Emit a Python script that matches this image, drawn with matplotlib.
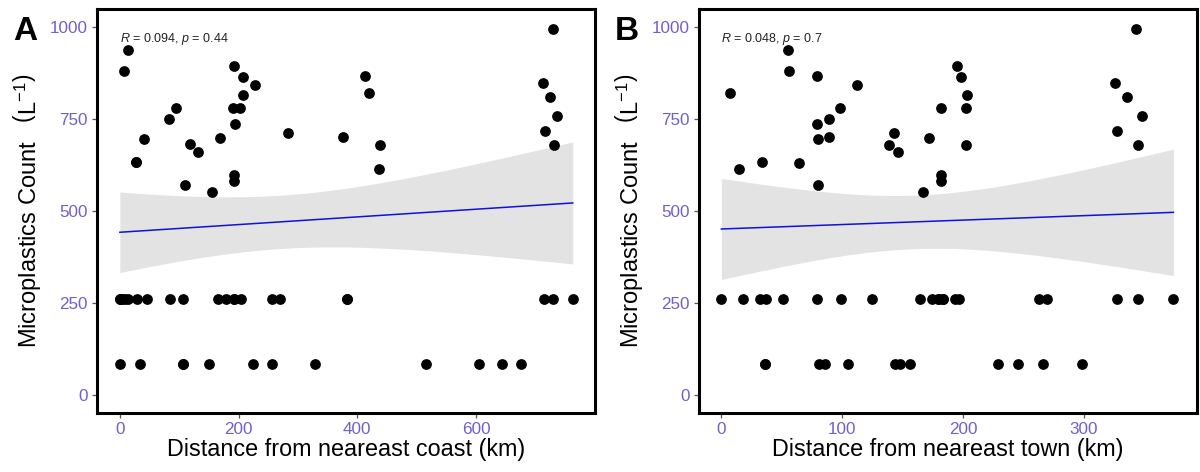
import numpy as np
import matplotlib
matplotlib.use("Agg")
import matplotlib.pyplot as plt

plt.rcParams['font.family'] = ['Liberation Sans', 'DejaVu Sans']
plt.rcParams['mathtext.fontset'] = 'custom'
plt.rcParams['mathtext.rm'] = 'Liberation Sans'
plt.rcParams['mathtext.it'] = 'Liberation Sans:italic'

# ---------------- data: panel A (distance to coast) ----------------
coast_x = [7, 14, 27, 27, 40, 83, 95, 110, 118, 131, 155, 168, 193, 208, 208, 228, 190,
           202, 194, 192, 192, 283, 376, 413, 420, 439, 437, 729, 713, 724, 737, 716, 731,
           0, 0, 4, 8, 13, 29, 45, 84, 106, 165, 178, 192, 192, 204, 257, 270, 382, 382, 715, 730, 763,
           0, 34, 106, 106, 151, 224, 256, 328, 515, 605, 643, 676]
coast_y = [881, 937, 632, 632, 697, 749, 781, 571, 681, 661, 551, 699, 895, 865, 815, 842, 781,
           781, 736, 598, 582, 711, 702, 867, 820, 680, 614, 995, 849, 811, 757, 718, 680,
           260, 260, 260, 260, 260, 260, 260, 260, 260, 260, 260, 260, 260, 260, 260, 260, 260, 260, 260, 260, 260,
           85, 85, 85, 85, 85, 85, 85, 85, 85, 85, 85, 85]

# ---------------- data: panel B (distance to town) ----------------
town_x = [7, 15, 34, 55, 56, 64, 79, 79, 80, 80, 89, 89, 98, 112, 139, 143,
          146, 167, 172, 182, 182, 182, 195, 198, 203, 202, 202, 343, 326, 336, 348, 327, 345,
          0, 18, 32, 37, 51, 79, 99, 125, 164, 174, 179, 180, 183, 183, 193, 197, 263, 269, 327, 345, 374,
          36, 36, 81, 86, 105, 144, 148, 156, 229, 245, 266, 298]
town_y = [821, 614, 633, 937, 881, 631, 867, 736, 697, 571, 749, 702, 781, 842, 680, 711,
          661, 552, 699, 781, 598, 582, 895, 865, 815, 781, 680, 995, 849, 811, 757, 718, 680,
          260, 260, 260, 260, 260, 260, 260, 260, 260, 260, 260, 260, 260, 260, 260, 260, 260, 260, 260, 260, 260,
          85, 85, 85, 85, 85, 85, 85, 85, 85, 85, 85, 85]

labels_A = "R = 0.094, p = 0.44"
labels_B = "R = 0.048, p = 0.7"
yticks = [0, 250, 500, 750, 1000]
xticks_A = [0, 200, 400, 600]
xticks_B = [0, 100, 200, 300]

TICK_COLOR = "#6F61CC"


def lm_band(x, y, n=100, t=2.0):
    x = np.asarray(x, float)
    y = np.asarray(y, float)
    b1, b0 = np.polyfit(x, y, 1)
    xs = np.linspace(x.min(), x.max(), n)
    ys = b0 + b1 * xs
    resid = y - (b0 + b1 * x)
    s = np.sqrt(np.sum(resid ** 2) / (len(x) - 2))
    se = s * np.sqrt(1 / len(x) + (xs - x.mean()) ** 2 / np.sum((x - x.mean()) ** 2))
    return xs, ys, ys - t * se, ys + t * se


fig = plt.figure(figsize=(12, 4.72), dpi=100)
axA = fig.add_axes([97 / 1200, 59 / 472, 498 / 1200, 404 / 472])
axB = fig.add_axes([699 / 1200, 59 / 472, 498 / 1200, 404 / 472])

panels = [
    (axA, coast_x, coast_y, labels_A, xticks_A, (-38.5, 800.5), "Distance from neareast coast (km)", "A", 25),
    (axB, town_x, town_y, labels_B, xticks_B, (-18.5, 393.5), "Distance from neareast town (km)", "B", 627),
]

for ax, xv, yv, lab, xt, xl, xlabel, letter, lx in panels:
    xs, ys, lo, hi = lm_band(xv, yv)
    ax.fill_between(xs, lo, hi, color="#E3E3E3", lw=0, zorder=1)
    ax.plot(xs, ys, color="#1010E0", lw=1.1, zorder=2)
    ax.scatter(xv, yv, s=60, color="black", lw=0, zorder=3)
    ax.set_xlim(*xl)
    ax.set_ylim(-49, 1049)
    ax.set_xticks(xt)
    ax.set_yticks(yticks)
    ax.tick_params(axis="both", colors="#555555", labelcolor=TICK_COLOR, labelsize=12.3,
                   length=3.5, width=0.9, direction="out", pad=3)
    for sp in ax.spines.values():
        sp.set_linewidth(2.2)
        sp.set_color("black")
    ax.set_xlabel(xlabel, fontsize=16.8, color="black", labelpad=1)
    ax.set_ylabel(r"Microplastics Count   $\left(\mathrm{L}^{-1}\right)$", fontsize=17,
                  color="black", labelpad=5)
    r_part, p_part = lab.split(", ")
    txt = "$R$" + r_part[1:] + ", " + "$p$" + p_part[1:]
    ax.text(0, 968, txt, fontsize=9, color="#222222", ha="left", va="center")
    fig.text(lx / 1200, 1 - 32 / 472, letter, fontsize=24, fontweight="bold",
             ha="center", va="center")

fig.savefig("out.png", dpi=100)
